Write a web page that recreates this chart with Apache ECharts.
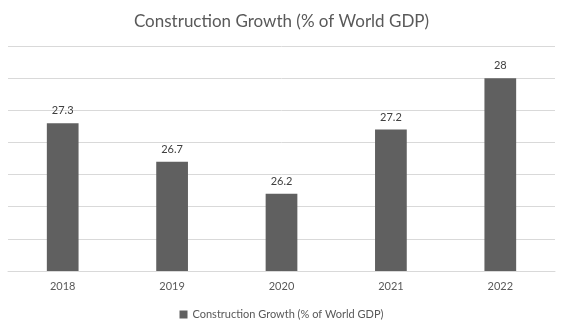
<!DOCTYPE html>
<html>
<head>
<meta charset="utf-8">
<script src="https://cdn.jsdelivr.net/npm/echarts@6/dist/echarts.min.js"></script>
<style>html,body{margin:0;padding:0;background:#fff}#c{width:563px;height:322px}</style>
</head>
<body>
<div id="c"></div>
<script>
const categories = ['2018', '2019', '2020', '2021', '2022'];
const values = [27.3, 26.7, 26.2, 27.2, 28];
const seriesName = 'Construction Growth (% of World GDP)';
const titleText = 'Construction Growth (% of World GDP)';

const chart = echarts.init(document.getElementById('c'), null, {renderer: 'canvas'});
const font = 'Lato, "Open Sans", sans-serif';
chart.setOption({
  animation: false,
  title: {
    text: titleText, left: 'center', top: 8,
    textStyle: {fontFamily: font, fontSize: 17, fontWeight: 'normal', color: '#595959'}
  },
  legend: {
    bottom: -3, left: 'center', itemWidth: 8, itemHeight: 8, itemGap: 4,
    icon: 'rect',
    textStyle: {fontFamily: font, fontSize: 11, color: '#595959'},
    data: [seriesName]
  },
  grid: {left: 8, right: 8, top: 46, bottom: 51, containLabel: false},
  xAxis: {
    type: 'category', data: categories,
    axisLine: {show: true, lineStyle: {color: '#d9d9d9'}},
    axisTick: {show: false},
    axisLabel: {fontFamily: font, fontSize: 11, color: '#595959', margin: 10}
  },
  yAxis: {
    type: 'value', min: 25, max: 28.5, interval: 0.5,
    axisLine: {show: false}, axisTick: {show: false}, axisLabel: {show: false},
    splitLine: {lineStyle: {color: '#d9d9d9', width: 1}}
  },
  series: [{
    name: seriesName, type: 'bar', data: values, barWidth: '29%',
    itemStyle: {color: '#606060'},
    label: {show: true, position: 'top', distance: 7, fontFamily: font, fontSize: 11, color: '#404040'}
  }]
});
</script>
</body>
</html>
